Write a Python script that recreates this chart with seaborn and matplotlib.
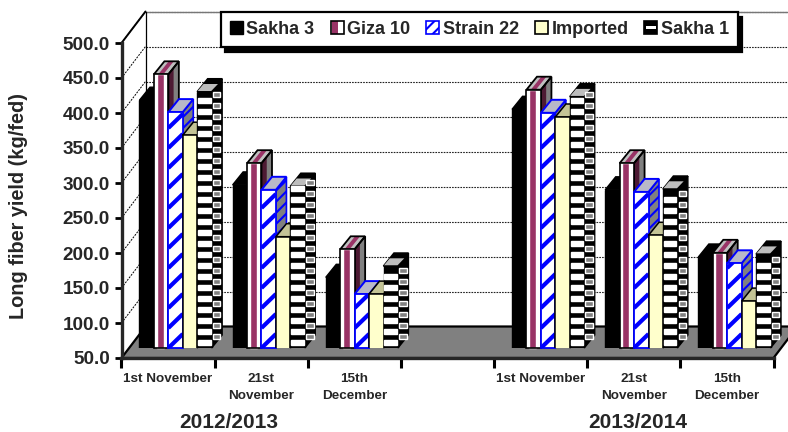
import numpy as np
import pandas as pd
import matplotlib
matplotlib.use("Agg")
import matplotlib.pyplot as plt
import seaborn as sns
from matplotlib.legend_handler import HandlerBase
from matplotlib.lines import Line2D
from matplotlib.patches import Patch, Polygon, Rectangle

varieties = ["Sakha 3", "Giza 10", "Strain 22", "Imported", "Sakha 1"]
slots = [0, 1, 2, 4, 5, 6]
slot_labels = ["1st November", "21st\nNovember", "15th\nDecember", "",
               "1st November", "21st\nNovember", "15th\nDecember"]
seasons = ["2012/2013", "2013/2014"]
sakha3 = [404, 283, 151, 391, 276, 180]
giza10 = [441, 314, 191, 419, 314, 186]
strain22 = [387, 276, 127, 386, 273, 171]
imported = [354, 209, 127, 380, 211, 117]
sakha1 = [416, 281, 167, 409, 277, 184]
y_ticks = [50, 100, 150, 200, 250, 300, 350, 400, 450, 500]

W, H = 788, 432
FONT = "Liberation Sans"
MAROON = "#993366"
BLUE = "#0000FF"
CREAM = "#FFFFCC"

sns.set_style("white")
plt.rcParams["font.family"] = [FONT, "DejaVu Sans"]
plt.rcParams["font.weight"] = "bold"
plt.rcParams["hatch.linewidth"] = 1.5

df = pd.DataFrame({
    "slot": slots * 5,
    "variety": np.repeat(varieties, 6),
    "value": sakha3 + giza10 + strain22 + imported + sakha1,
})

fig = plt.figure(figsize=(W / 100, H / 100), dpi=100)


def box(x0, y_top, x1, y_bot):
    return [x0 / W, 1 - y_bot / H, (x1 - x0) / W, (y_bot - y_top) / H]


# front plane of the chart holds the axis, bars stand halfway into the floor
ax = fig.add_axes(box(121.5, 43, 773.5, 358))
ax_bars = fig.add_axes(box(129, 33, 781, 348))
ax_bars.patch.set_alpha(0)

for a in (ax, ax_bars):
    a.set_xlim(-0.5, 6.5)
    a.set_ylim(50, 500)

slot_px = 652 / 7
val_px = 315 / 450
wall_dx, wall_dy = 24 / slot_px, 31.5 / val_px
bar_dx, bar_dy = 10.5 / slot_px, 13 / val_px

# walls and floor
x0, x1 = -0.5, 6.5
for t in y_ticks[1:]:
    ax.plot([x0, x0 + wall_dx], [t, t + wall_dy], color="k", lw=0.7, ls=(0, (2, 1.2)), clip_on=False, zorder=1)
    ax.plot([x0 + wall_dx, x1 + wall_dx], [t + wall_dy, t + wall_dy], color="#222222", lw=0.8,
            ls=(0, (1.5, 1)), clip_on=False, zorder=1)
ax.plot([x0 + wall_dx, x1 + wall_dx], [500 + wall_dy] * 2, color="#777777", lw=1.0, clip_on=False, zorder=1)
ax.plot([x0 + wall_dx, x0 + wall_dx], [50 + wall_dy, 500 + wall_dy], color="k", lw=0.9, clip_on=False, zorder=1)
ax.plot([x0, x0 + wall_dx], [500, 500 + wall_dy], color="k", lw=1.4, clip_on=False, zorder=1)
ax.add_patch(Polygon([(x0, 50), (x0 + wall_dx, 50 + wall_dy), (x1 + wall_dx, 50 + wall_dy), (x1, 50)],
                     facecolor="#808080", edgecolor="k", lw=1.6, clip_on=False, zorder=2))

sns.barplot(data=df, x="slot", y="value", hue="variety", order=list(range(7)), hue_order=varieties,
            width=0.775, gap=0, palette=["k", "white", "white", CREAM, "k"], legend=False,
            saturation=1, ax=ax_bars)
ax_bars.set_xlim(-0.5, 6.5)
ax_bars.set_ylim(50, 500)
ax_bars.axis("off")

period_y = 11 / val_px
band_y = 5.5 / val_px
stripe_y = 20 / val_px


def shape(points, fc, z, ec="none", lw=0, **kw):
    p = Polygon(points, facecolor=fc, edgecolor=ec, lw=lw, clip_on=False, zorder=z, **kw)
    ax_bars.add_patch(p)
    return p


for i, (name, bars) in enumerate(zip(varieties, ax_bars.containers)):
    z = 3 + i
    for bar in bars:
        if not bar.get_height() > 0:
            continue
        l = bar.get_x()
        w = bar.get_width()
        r = l + w
        v = bar.get_height()
        side = [(r, 50), (r + bar_dx, 50 + bar_dy), (r + bar_dx, v + bar_dy), (r, v)]
        top = [(l, v), (l + bar_dx, v + bar_dy), (r + bar_dx, v + bar_dy), (r, v)]
        bar.set_zorder(z + 0.5)

        if name == "Sakha 3":
            bar.set_edgecolor("k")
            shape(side, "k", z, "k", 1)
            shape(top, "k", z, "k", 1)

        elif name == "Giza 10":
            bar.set_edgecolor("none")
            shape(side, "#808080", z)
            shape([(r, 50), (r + bar_dx * 0.5, 50 + bar_dy * 0.5), (r + bar_dx * 0.5, v + bar_dy * 0.5), (r, v)],
                  "#4D1A33", z + 0.1)
            shape(side, "none", z + 0.2, "k", 1.3)
            shape(top, "#C0C0C0", z)
            a, b = l + w * 0.3, l + w * 0.65
            shape([(a, v), (a + bar_dx, v + bar_dy), (b + bar_dx, v + bar_dy), (b, v)], MAROON, z + 0.1)
            shape(top, "none", z + 0.2, "k", 1.3)
            ax_bars.add_patch(Rectangle((l + w * 0.18, 50), w * 0.5, v - 50, facecolor=MAROON,
                                        zorder=z + 0.6, clip_on=False))
            ax_bars.add_patch(Rectangle((l, 50), w, v - 50, facecolor="none", edgecolor="k", lw=1.2,
                                        zorder=z + 0.7, clip_on=False))

        elif name == "Strain 22":
            bar.set_edgecolor("none")
            shape(side, "#808080", z, BLUE, 1.2, hatch="///")
            shape(top, "#B8B8C8", z, BLUE, 1.4)
            outline = Rectangle((l, 50), w, v - 50, facecolor="none", edgecolor=BLUE, lw=1.3,
                                zorder=z + 0.7, clip_on=False)
            ax_bars.add_patch(outline)
            for y in np.arange(50 - stripe_y, v, stripe_y):
                ln = Line2D([l, r], [y, y + 14 / val_px], color=BLUE, lw=3.0, solid_capstyle="butt", zorder=z + 0.6)
                ax_bars.add_line(ln)
                ln.set_clip_path(outline)

        elif name == "Imported":
            bar.set_edgecolor("k")
            bar.set_linewidth(1.1)
            shape(side, "#80806A", z, "k", 1.1)
            shape(top, "#C4C496", z, "k", 1.1)

        else:
            bar.set_edgecolor("k")
            shape(side, "k", z, "k", 1)
            shape(top, "k", z, "k", 1.2)
            shape([(l + w * 0.03, v + bar_dy * 0.06), (l + bar_dx * 0.6, v + bar_dy * 0.6),
                   (r + bar_dx * 0.6, v + bar_dy * 0.6), (r - w * 0.03, v + bar_dy * 0.06)],
                  "#BDBDBD", z + 0.1)
            for y in np.arange(50 + 3 / val_px, v - band_y * 0.6, period_y):
                ax_bars.add_patch(Rectangle((l + w * 0.05, y), w * 0.88, band_y, facecolor="white",
                                            zorder=z + 0.6, clip_on=False))
                tile = y + bar_dy * 0.45
                if tile + band_y < v + bar_dy * 0.6:
                    ax_bars.add_patch(Rectangle((r + bar_dx * 0.12, tile), bar_dx * 0.72, band_y,
                                                facecolor="#808080", zorder=z + 0.6, clip_on=False))

# axis of the front plane
ax.patch.set_alpha(0)
for s in ("top", "right"):
    ax.spines[s].set_visible(False)
ax.spines["left"].set_linewidth(2.4)
ax.spines["bottom"].set_linewidth(2.4)
ax.spines["left"].set_zorder(3)
ax.spines["bottom"].set_zorder(3)
ax.set_yticks(y_ticks)
ax.set_yticklabels([f"{t:.1f}" for t in y_ticks], fontsize=13.6, fontweight="bold")
ax.tick_params(axis="y", left=True, length=5, width=2.0, pad=3.3, color="k")
ax.set_xticks(np.arange(7))
ax.set_xticklabels(slot_labels, fontsize=9.7, fontweight="bold", linespacing=1.48)
ax.tick_params(axis="x", which="major", bottom=False, length=0, pad=11)
ax.set_xticks(np.arange(-0.5, 7), minor=True)
ax.tick_params(axis="x", which="minor", bottom=True, length=7, width=2.2, color="k")
ax.set_xlabel("")
ax.set_ylabel("")
ax_bars.set_zorder(ax.get_zorder() + 1)

fig.text(19 / W, 1 - 206 / H, "Long fiber yield (kg/fed)", rotation=90, fontsize=14.3,
         fontweight="bold", ha="center", va="center")
fig.text(229 / W, 1 - 422 / H, seasons[0], fontsize=15, fontweight="bold", ha="center", va="center")
fig.text(638 / W, 1 - 422 / H, seasons[1], fontsize=15, fontweight="bold", ha="center", va="center")


class Swatch(HandlerBase):
    def create_artists(self, legend, orig, xd, yd, width, height, fontsize, trans):
        name = orig.get_label()
        x, y = -xd, -yd

        def rect(fx, fy, fw, fh, **kw):
            return Rectangle((x + fx * width, y + fy * height), fw * width, fh * height, transform=trans, **kw)

        if name == "Sakha 3":
            parts = [rect(0, 0, 1, 1, fc="k", ec="k", lw=1)]
        elif name == "Giza 10":
            parts = [rect(0, 0, 1, 1, fc="white", ec="none"), rect(0.1, 0, 0.45, 1, fc=MAROON, ec="none"),
                     rect(0, 0, 1, 1, fc="none", ec="k", lw=1.2)]
        elif name == "Strain 22":
            parts = [rect(0, 0, 1, 1, fc="white", ec=BLUE, lw=1.2, hatch="///")]
        elif name == "Imported":
            parts = [rect(0, 0, 1, 1, fc=CREAM, ec="k", lw=1.2)]
        else:
            parts = [rect(0, 0, 1, 1, fc="k", ec="k", lw=1.2), rect(0.1, 0.4, 0.8, 0.25, fc="white", ec="none")]
        return parts


handles = [Patch(label=n) for n in varieties]
leg = ax_bars.legend(handles=handles, handler_map={Patch: Swatch()}, ncol=5, loc="center",
                     bbox_to_anchor=(479.5 / W, 1 - 29.5 / H), bbox_transform=fig.transFigure,
                     fontsize=13, prop={"family": FONT, "weight": "bold", "size": 13},
                     frameon=True, fancybox=False, framealpha=1, edgecolor="k",
                     shadow={"color": "k", "alpha": 1, "ox": 2.8, "oy": -3.6},
                     handlelength=0.72, handleheight=0.72, handletextpad=0.2, columnspacing=0.88,
                     borderpad=0.5, borderaxespad=0)
leg.get_frame().set_linewidth(1.6)
leg.set_zorder(20)

fig.savefig("out.png", dpi=100)
